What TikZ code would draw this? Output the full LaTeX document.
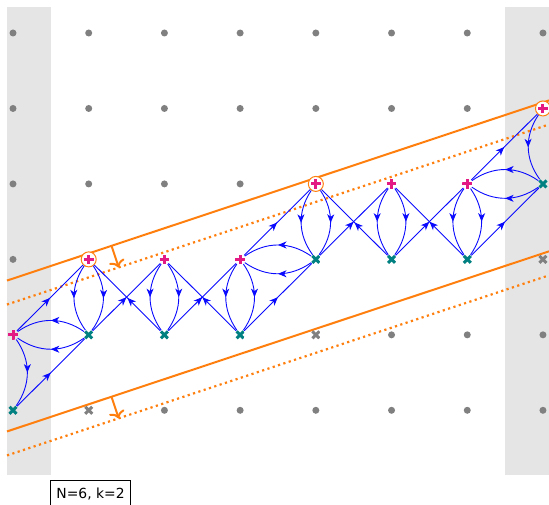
\documentclass[tikz,border=0pt]{standalone}
\usepackage{fontspec}
\newfontfamily\dejavu{DejaVu Sans}
\usetikzlibrary{arrows.meta,decorations.markings}
\definecolor{pinkc}{RGB}{228,26,132}
\definecolor{tealc}{RGB}{0,128,128}
\definecolor{grayc}{RGB}{128,128,128}
\definecolor{orangec}{RGB}{255,127,14}
\definecolor{bandc}{RGB}{229,229,229}
\definecolor{bluec}{RGB}{10,10,255}
\tikzset{
  plusmark/.style={circle, inner sep=0pt, minimum size=11pt,
    path picture={\draw[pinkc, line width=3pt]
      ([xshift=-4.8pt]path picture bounding box.center) -- ([xshift=4.8pt]path picture bounding box.center)
      ([yshift=-4.8pt]path picture bounding box.center) -- ([yshift=4.8pt]path picture bounding box.center);}},
  circplus/.style={plusmark, minimum size=15pt, draw=orangec, line width=1pt, fill=white},
  crossmark/.style={circle, inner sep=0pt, minimum size=11pt,
    path picture={\draw[#1, line width=3pt]
      ([shift={(-3.5pt,-3.5pt)}]path picture bounding box.center) -- ([shift={(3.5pt,3.5pt)}]path picture bounding box.center)
      ([shift={(-3.5pt,3.5pt)}]path picture bounding box.center) -- ([shift={(3.5pt,-3.5pt)}]path picture bounding box.center);}},
  dotmark/.style={circle, inner sep=0pt, minimum size=7pt, fill=grayc},
  flow/.style={draw=bluec, line width=0.9pt, postaction={decorate},
    decoration={markings, mark=at position 0.5 with {\arrow{Stealth[length=8.5pt,width=7pt,inset=2.5pt]}}}},
  solidline/.style={draw=orangec, line width=2pt},
  dottedline/.style={draw=orangec, line width=2.2pt, dash pattern=on 2.2pt off 3.4pt},
  shiftarrow/.style={draw=orangec, line width=2pt, -{Computer Modern Rightarrow[length=7pt,width=16pt]}},
}
\begin{document}
\begin{tikzpicture}[x=1pt,y=-1pt]
\useasboundingbox (0,0) rectangle (549,505);
% bands
\fill[bandc] (7,7) rectangle (51,475);
\fill[bandc] (505,7) rectangle (549,475);
% orange lines
\coordinate (us1) at (7,280.55); \coordinate (us2) at (549,100.44);
\coordinate (ud1) at (7,304.55); \coordinate (ud2) at (549,124.44);
\coordinate (ls1) at (7,431.45); \coordinate (ls2) at (549,251.34);
\coordinate (ld1) at (7,455.45); \coordinate (ld2) at (549,275.34);
\draw[solidline] (us1) -- (us2);
\draw[solidline] (ls1) -- (ls2);
\draw[dottedline] (ud1) -- (ud2);
\draw[dottedline] (ld1) -- (ld2);
\coordinate (ua1) at (111.5,245.8); \coordinate (ua2) at (118.7,267.4);
\coordinate (la1) at (111.5,396.7); \coordinate (la2) at (118.7,418.3);
\draw[shiftarrow] (ua1) -- (ua2);
\draw[shiftarrow] (la1) -- (la2);
% grid dots
\foreach \i/\j in {0/0,1/0,2/0,3/0,4/0,5/0,6/0,7/0,
                   0/1,1/1,2/1,3/1,4/1,5/1,6/1,
                   0/2,1/2,2/2,3/2,
                   0/3,
                   5/4,6/4,7/4,
                   2/5,3/5,4/5,5/5,6/5,7/5}
  \node[dotmark] (d\i\j) at ({13+75.71*\i},{33+75.46*\j}) {};
% gray crosses
\foreach \i/\j in {7/3,4/4,1/5}
  \node[crossmark=grayc] (g\i\j) at ({13+75.71*\i},{33+75.46*\j}) {};
% plus nodes
\foreach \n/\i/\j/\s in {0/0/4/plusmark,1/1/3/circplus,2/2/3/plusmark,3/3/3/plusmark,
                         4/4/2/circplus,5/5/2/plusmark,6/6/2/plusmark,7/7/1/circplus}
  \node[\s] (P\n) at ({13+75.71*\i},{33+75.46*\j}) {};
% teal cross nodes
\foreach \n/\i/\j in {0/0/5,1/1/4,2/2/4,3/3/4,4/4/3,5/5/3,6/6/3,7/7/2}
  \node[crossmark=tealc] (Q\n) at ({13+75.71*\i},{33+75.46*\j}) {};
% straight edges
\draw[flow] (P0) -- (P1);
\draw[flow] (Q0) -- (Q1);
\draw[flow] (P3) -- (P4);
\draw[flow] (Q3) -- (Q4);
\draw[flow] (P6) -- (P7);
\draw[flow] (Q6) -- (Q7);
\draw[flow] (Q1) -- (P2);
\draw[flow] (Q2) -- (P1);
\draw[flow] (Q2) -- (P3);
\draw[flow] (Q3) -- (P2);
\draw[flow] (Q4) -- (P5);
\draw[flow] (Q5) -- (P4);
\draw[flow] (Q5) -- (P6);
\draw[flow] (Q6) -- (P5);
% curved edges
\draw[flow] (P0) to[bend left=35] (Q0);
\draw[flow] (P7) to[bend right=35] (Q7);
\foreach \n in {1,...,6}{
  \draw[flow] (P\n) to[bend left=35] (Q\n);
  \draw[flow] (P\n) to[bend right=35] (Q\n);
}
\foreach \a/\b in {1/0,4/3,7/6}{
  \draw[flow] (Q\a) to[bend left=35] (P\b);
  \draw[flow] (Q\a) to[bend right=35] (P\b);
}
% legend
\node[draw=black, line width=0.8pt, font=\dejavu\fontsize{13.9}{16}\selectfont,
      inner xsep=6pt, inner ysep=7pt, anchor=base west] (legend) at (50,498.3) {N=6, k=2};
\end{tikzpicture}
\end{document}
